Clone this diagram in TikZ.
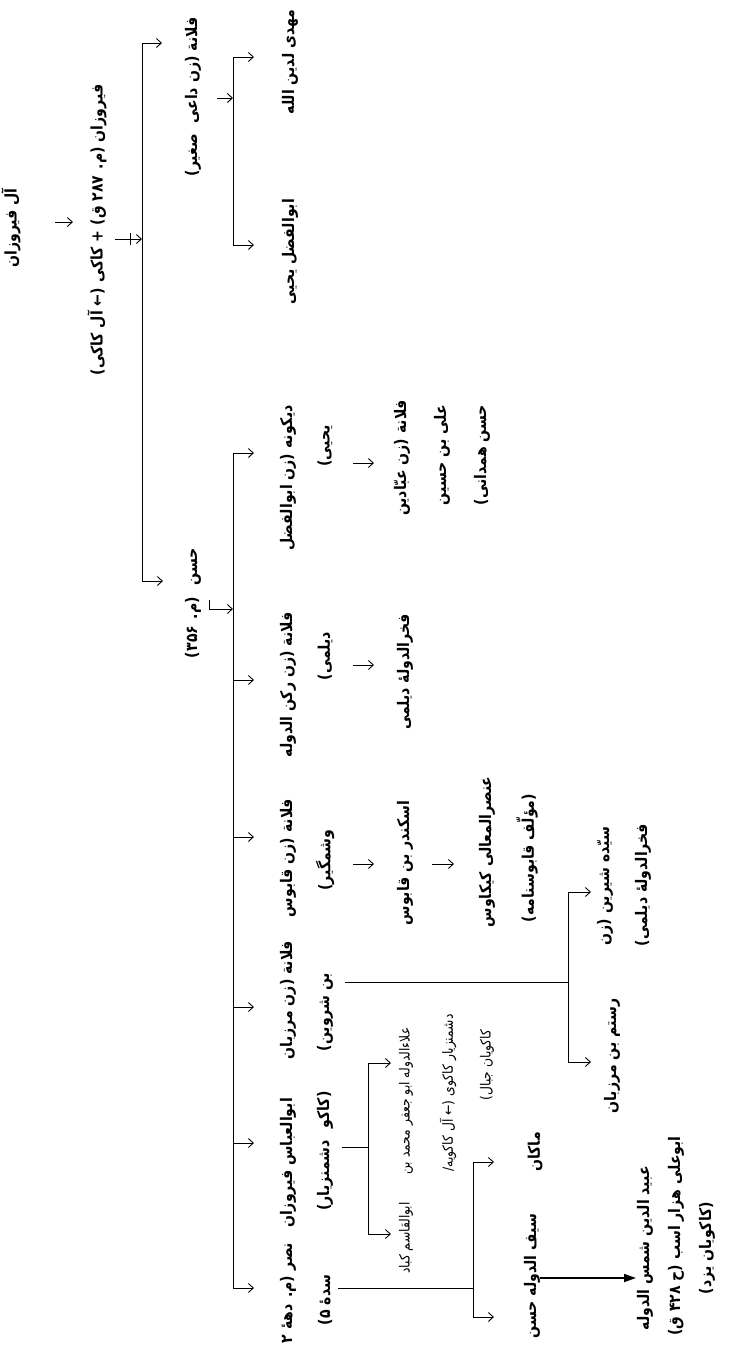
\documentclass[tikz,border=0pt]{standalone}
\usepackage{fontspec}
\usetikzlibrary{arrows.meta}
\newfontfamily\fa[Script=Arabic, FakeStretch=0.88]{DejaVu Sans}
\TeXXeTstate=1
\tikzset{
  txt/.style={rotate=90, inner sep=0pt, font=\fa\bfseries\fontsize{16}{18}\selectfont},
  sm/.style={txt, font=\fa\fontsize{14}{16}\selectfont},
  ln/.style={line width=0.9pt},
  arr/.style={ln, -{Straight Barb[length=5pt,width=9pt]}},
  bigarr/.style={line width=1.8pt, -{Triangle[length=12pt,width=8pt]}}
}
\begin{document}
\begin{tikzpicture}[x=1pt,y=-1pt]
\path[use as bounding box, fill=white] (0,0) rectangle (736,1352);

% ---------- names ----------
\node[txt] (root) at (11,228) {\beginR آل فیروزان\endR};
\node[txt] (firuzan) at (97,230) {\beginR فیروزان (م. ۲۸۷ ق) + کاکی (← آل کاکی)\endR};

\node[txt] (dai) at (193,97) {\beginR فلانة (زن داعی\hspace{10pt}صغیر)\endR};
\node[txt] (mahdi) at (290,62) {\beginR مهدی لدین الله\endR};
\node[txt] (abulfazl) at (290,252) {\beginR ابوالفضل یحیی\endR};

\node[txt] (hasan) at (193,603) {\beginR حسن\hspace{12pt}(م. ۳۵۶)\endR};

\node[txt] (dik1) at (288,478) {\beginR دیکونه (زن ابوالفضل\endR};
\node[txt] (dik2) at (325,446) {\beginR یحیی)\endR};
\node[txt] (ab1) at (402,458) {\beginR فلانة (زن عبّادین\endR};
\node[txt] (ab2) at (442,455) {\beginR علی بن حسین\endR};
\node[txt] (ab3) at (482,455) {\beginR حسن همدانی)\endR};

\node[txt] (rk1) at (288,685) {\beginR فلانة (زن رکن الدوله\endR};
\node[txt] (rk2) at (325,656) {\beginR دیلمی)\endR};
\node[txt] (fakhr) at (405,672) {\beginR فخرالدولهٔ دیلمی\endR};

\node[txt] (qb1) at (288,858) {\beginR فلانة (زن قابوس\endR};
\node[txt] (qb2) at (325,860) {\beginR وشمگیر)\endR};
\node[txt] (iskandar) at (405,863) {\beginR اسکندر بن قابوس\endR};
\node[txt] (unsur1) at (487,852) {\beginR عنصرالمعالی کیکاوس\endR};
\node[txt] (unsur2) at (527,858) {\beginR (مؤلّف قابوسنامه)\endR};

\node[txt] (mz1) at (288,1000) {\beginR فلانة (زن مرزبان\endR};
\node[txt] (mz2) at (325,1012) {\beginR بن شروین)\endR};
\node[txt] (sayyida1) at (605,886) {\beginR سیّده شیرین (زن\endR};
\node[txt] (sayyida2) at (643,885) {\beginR فخرالدولهٔ دیلمی)\endR};
\node[txt] (rustam) at (612,1056) {\beginR رستم بن مرزبان\endR};

\node[txt] (kk1) at (288,1163) {\beginR ابوالعباس فیروزان\endR};
\node[txt] (kk2) at (325,1151) {\beginR (کاکو\hspace{12pt}دشمنزیار)\endR};
\node[sm] (ala1) at (406,1101) {\beginR علاءالدوله ابو جعفر محمد بن\endR};
\node[sm] (ala2) at (448,1093) {\beginR دشمنزیار کاکوی (← آل کاکویه/\endR};
\node[sm] (ala3) at (487,1065) {\beginR کاکویان جبال)\endR};
\node[sm] (kabad) at (406,1238) {\beginR ابوالقاسم کباد\endR};

\node[txt] (nasr1) at (288,1293) {\beginR نصر (م. دههٔ ۲\endR};
\node[txt] (nasr2) at (325,1300) {\beginR سدهٔ ۵)\endR};
\node[txt] (makan) at (535,1152) {\beginR ماکان\endR};
\node[txt] (sayf) at (532,1276) {\beginR سیف الدوله حسن\endR};
\node[txt] (ubayd1) at (645,1248) {\beginR عبید الدین شمس الدوله\endR};
\node[txt] (ubayd2) at (676,1236) {\beginR ابوعلی هزار اسب (ح ۴۲۸ ق)\endR};
\node[txt] (ubayd3) at (707,1248) {\beginR (کاکویان یزد)\endR};

% ---------- junction points ----------
\coordinate (r0) at (55,222);   \coordinate (r1) at (73,222);
\coordinate (f0) at (115,239);  \coordinate (f1) at (142,239);
\coordinate (B1t) at (142,43);  \coordinate (B1b) at (142,581);
\coordinate (B1ta) at (162,43); \coordinate (B1ba) at (163,581);

\coordinate (d0) at (217,98);   \coordinate (d1) at (233,98);
\coordinate (B2t) at (233,57);  \coordinate (B2b) at (233,245);
\coordinate (B2ta) at (254,57); \coordinate (B2ba) at (254,245);

\coordinate (h0) at (210,609);  \coordinate (h1) at (233,609);
\coordinate (B3t) at (233,453); \coordinate (B3b) at (233,1288);
\foreach \yy/\nm in {453/c1,680/c2,837/c3,1007/c4,1143/c5,1288/c6}
  \coordinate (\nm) at (254,\yy);

\coordinate (g1s) at (353,463); \coordinate (g1e) at (374,463);
\coordinate (g2s) at (353,665); \coordinate (g2e) at (374,665);
\coordinate (g3s) at (353,864); \coordinate (g3e) at (374,864);
\coordinate (g4s) at (432,864); \coordinate (g4e) at (454,864);

\coordinate (m0) at (345,982);  \coordinate (m1) at (568,982);
\coordinate (B4t) at (568,892); \coordinate (B4b) at (568,1062);
\coordinate (B4ta) at (591,892); \coordinate (B4ba) at (591,1062);

\coordinate (k0) at (342,1147); \coordinate (k1) at (368,1147);
\coordinate (B5t) at (368,1063); \coordinate (B5b) at (368,1234);
\coordinate (B5ta) at (391,1063); \coordinate (B5ba) at (391,1234);

\coordinate (n0) at (338,1288); \coordinate (n1) at (473,1288);
\coordinate (B6t) at (473,1162); \coordinate (B6b) at (473,1317);
\coordinate (B6ta) at (494,1162); \coordinate (B6ba) at (494,1317);

\coordinate (s0) at (540,1278); \coordinate (s1) at (636,1278);

% ---------- connectors ----------
\draw[arr] (r0) -- (r1);
\draw[arr] (f0) -- (f1);
\draw[ln] (130,233) -- (130,245);
\draw[ln] (B1t) -- (B1b);
\draw[arr] (B1t) -- (B1ta);
\draw[arr] (B1b) -- (B1ba);

\draw[arr] (d0) -- (d1);
\draw[ln] (B2t) -- (B2b);
\draw[arr] (B2t) -- (B2ta);
\draw[arr] (B2b) -- (B2ba);

\draw[arr] (h0) -- (h1);
\draw[ln] (209,600) -- (209,610);
\draw[ln] (B3t) -- (B3b);
\foreach \nm in {c1,c2,c3,c4,c5,c6}
  \draw[arr] (B3t |- \nm) -- (\nm);

\draw[arr] (g1s) -- (g1e);
\draw[arr] (g2s) -- (g2e);
\draw[arr] (g3s) -- (g3e);
\draw[arr] (g4s) -- (g4e);

\draw[ln] (m0) -- (m1);
\draw[ln] (B4t) -- (B4b);
\draw[arr] (B4t) -- (B4ta);
\draw[arr] (B4b) -- (B4ba);

\draw[ln] (k0) -- (k1);
\draw[ln] (B5t) -- (B5b);
\draw[arr] (B5t) -- (B5ta);
\draw[arr] (B5b) -- (B5ba);

\draw[ln] (n0) -- (n1);
\draw[ln] (B6t) -- (B6b);
\draw[arr] (B6t) -- (B6ta);
\draw[arr] (B6b) -- (B6ba);

\draw[bigarr] (s0) -- (s1);
\end{tikzpicture}
\end{document}
